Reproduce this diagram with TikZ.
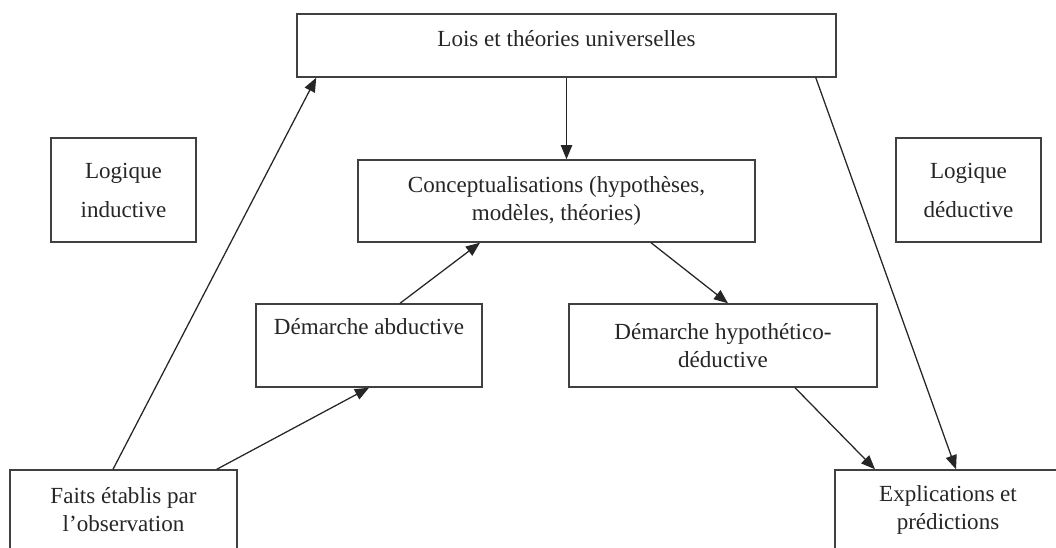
\documentclass[tikz,border=0pt]{standalone}
\usepackage{fontspec}
\setmainfont{Liberation Serif}
\usetikzlibrary{arrows.meta,calc}

\begin{document}
\begin{tikzpicture}[x=0.025cm, y=-0.025cm,
        boite/.style={draw=black!75, line width=1pt, align=center, inner sep=0pt, text=black!85, font=\fontsize{16.4}{20}\selectfont},
        fleche/.style={-{Triangle[length=10pt,width=8pt]}, line width=0.9pt, draw=black!85}]
        \useasboundingbox (0,0) rectangle (1056,547);

        \node (lois)       at (566.5,45.5) [boite, minimum width=13.475cm, minimum height=1.575cm, text height=0.4cm, text depth=0.35cm] {Lois et théories universelles};
        \node (inductive)  at (123.5,190)  [boite, minimum width=3.625cm, minimum height=2.6cm]  {Logique\\[7.7pt]inductive};
        \node (deductive)  at (968.5,190)  [boite, minimum width=3.625cm, minimum height=2.6cm]  {Logique\\[7.7pt]déductive};
        \node (concept)    at (556.5,201)  [boite, minimum width=9.925cm, minimum height=2.05cm] {Conceptualisations (hypothèses,\\modèles, théories)};
        \node (abductive)  at (369,345.5)  [boite, minimum width=5.65cm, minimum height=2.075cm, text height=0.5cm, text depth=1.05cm] {Démarche abductive};
        \node (hypo)       at (723,345.5)  [boite, minimum width=7.7cm, minimum height=2.075cm]  {Démarche hypothético-\\déductive};
        \node (faits)      at (123.5,510)  [boite, minimum width=5.675cm, minimum height=2cm]   {Faits établis par\\l’observation};
        \node (expl)       at (948,510)    [boite, minimum width=5.65cm, minimum height=2cm]    {Explications et\\prédictions};

        \draw[fleche] ($(faits.north)+(-10.5,0)$)    to ($(lois.south west)+(20,0)$);
        \draw[fleche] ($(faits.north east)+(-21,0)$) to (abductive.south);
        \draw[fleche] ($(abductive.north)+(31,0)$)   to ($(concept.south)+(-76.5,0)$);
        \draw[fleche] (lois)                         to (lois |- concept.north);
        \draw[fleche] ($(concept.south)+(94.5,0)$)   to ($(hypo.north)+(5,0)$);
        \draw[fleche] ($(hypo.south)+(72,0)$)        to ($(expl.north)+(-73,0)$);
        \draw[fleche] ($(lois.south east)+(-21,0)$)  to ($(expl.north)+(8,0)$);
    \end{tikzpicture}
\end{document}
